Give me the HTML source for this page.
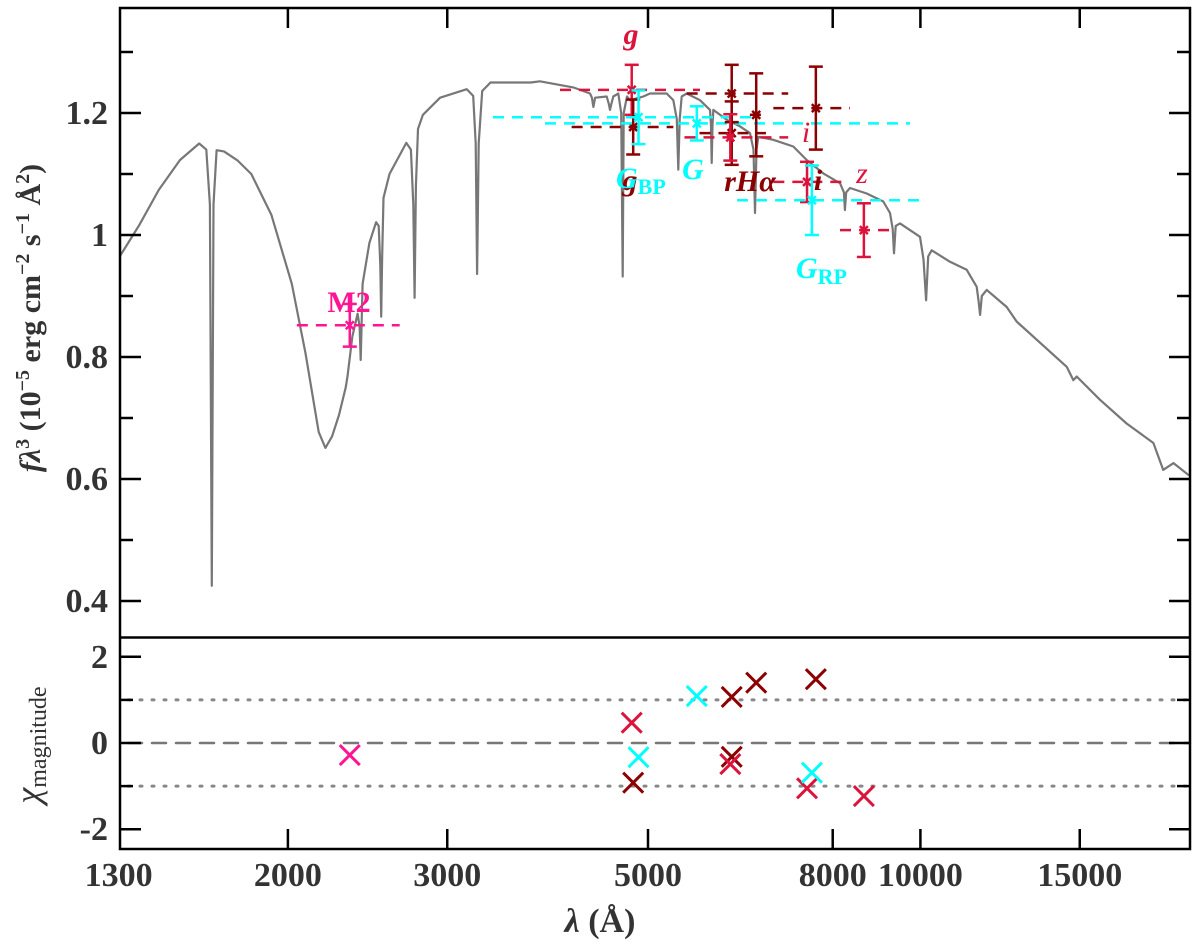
<!DOCTYPE html>
<html><head><meta charset="utf-8"><style>
html,body{margin:0;padding:0;background:#fff;}
svg{display:block;font-family:"Liberation Serif",serif;}
</style></head><body>
<svg id="chart" width="1200" height="945" viewBox="0 0 1200 945" xmlns="http://www.w3.org/2000/svg">
<g id="spec"></g>
<g id="phot"></g>
<g id="resid"></g>
<g id="axes"></g>
<text transform="translate(40,318) rotate(-90)" text-anchor="middle" font-size="30" font-weight="bold" fill="#333"><tspan font-style="italic">fλ</tspan><tspan dy="-11" font-size="20">3</tspan><tspan dy="11"> (10</tspan><tspan dy="-11" font-size="20">−5</tspan><tspan dy="11"> erg cm</tspan><tspan dy="-11" font-size="20">−2</tspan><tspan dy="11"> s</tspan><tspan dy="-11" font-size="20">−1</tspan><tspan dy="11"> Å</tspan><tspan dy="-11" font-size="20">2</tspan><tspan dy="11">)</tspan></text>
<text transform="translate(40,745) rotate(-90)" text-anchor="middle" font-size="36" fill="#333"><tspan font-style="italic">χ</tspan><tspan font-size="24" dy="6">magnitude</tspan></text>
<text x="600" y="932" text-anchor="middle" font-size="34" font-weight="bold" fill="#333"><tspan font-style="italic">λ</tspan> (Å)</text>
</svg>
<script>
// ---- data ----
const specWave = [1300,1370,1440,1520,1596,1625,1640,1648,1655,1668,1700,1760,1822,1918,2020,2091,2163,2200,2238,2278,2317,2327,2357,2388,2400,2407,2413,2419,2461,2503,2520,2530,2536,2542,2551,2590,2703,2735,2752,2761,2770,2785,2820,2946,3153,3205,3225,3237,3250,3279,3349,3712,3798,4135,4314,4335,4351,4370,4501,4525,4539,4555,4578,4636,4670,4688,4700,4740,4776,4940,5025,5244,5333,5380,5401,5420,5448,5517,5707,5855,5870,5880,5892,5904,6108,6319,6482,6540,6565,6590,6620,6878,7237,7488,7810,8150,8230,8252,8280,8360,8723,9100,9256,9320,9350,9390,9494,9989,10080,10145,10200,10292,10781,11250,11540,11600,11640,11690,11837,12455,12778,14510,14758,14884,15790,16900,18090,18550,19039,19800];
const specFlux = [0.962,1.016,1.074,1.123,1.150,1.140,1.050,0.425,1.050,1.139,1.137,1.122,1.100,1.033,0.920,0.807,0.677,0.651,0.670,0.705,0.750,0.767,0.834,0.871,0.850,0.795,0.860,0.920,0.987,1.021,1.015,0.950,0.866,0.960,1.061,1.100,1.151,1.140,1.050,0.897,1.080,1.174,1.197,1.225,1.239,1.228,1.150,0.936,1.150,1.236,1.250,1.250,1.252,1.242,1.232,1.225,1.210,1.225,1.227,1.215,1.205,1.215,1.227,1.232,1.200,0.932,1.200,1.227,1.221,1.227,1.232,1.232,1.221,1.190,1.107,1.190,1.227,1.232,1.221,1.205,1.180,1.118,1.180,1.205,1.189,1.178,1.167,1.140,1.036,1.140,1.161,1.156,1.145,1.123,1.101,1.085,1.070,1.041,1.070,1.077,1.068,1.055,1.036,1.010,0.970,1.015,1.019,0.997,0.960,0.893,0.965,0.975,0.956,0.943,0.915,0.890,0.869,0.900,0.910,0.882,0.858,0.784,0.762,0.768,0.730,0.691,0.659,0.615,0.626,0.606];

const photNames = ['g-sdss','g-iphas','gaia-bp','gaia-g','r-iphas-1','r-iphas-2','r-sdss','halpha','i-iphas','i-sdss','gaia-rp','z-sdss','m2'];
const photWave  = [4797,4815,4881,5661,6187,6187,6165,6585,7664,7494,7587,8660,2341];
const photFlux  = [1.238,1.177,1.193,1.183,1.232,1.167,1.160,1.197,1.208,1.087,1.057,1.008,0.852];
const photErr   = [0.041,0.045,0.044,0.028,0.047,0.052,0.038,0.068,0.068,0.033,0.057,0.044,0.035];
const photLo    = [3997,4117,3370,3847,5517,5700,5486,6480,6878,6878,6272,8150,2046];
const photHi    = [5707,5333,6533,9740,7143,6750,7143,6690,8360,8252,10055,9332,2658];
const photChi   = [0.47,-0.92,-0.33,1.09,1.07,-0.32,-0.49,1.40,1.48,-1.05,-0.69,-1.23,-0.28];
const photColor = ['#dc143c','#8b0000','#00ffff','#00ffff','#8b0000','#8b0000','#dc143c','#8b0000','#8b0000','#dc143c','#00ffff','#dc143c','#ff1493'];

const xTicks = [2000,3000,5000,8000,10000,15000];
const xTickLabels = ['1300','2000','3000','5000','8000','10000','15000'];
const xLabelWaves = [1300,2000,3000,5000,8000,10000,15000];
const yTicks = [0.4,0.6,0.8,1.0,1.2];
const yTickLabels = ['0.4','0.6','0.8','1','1.2'];
const yMinor = [0.5,0.7,0.9,1.1,1.3];
const rTicks = [-2,0,2];
const rTickLabels = ['-2','0','2'];
const rMinor = [-1,1];

// ---- scales ----
const L=120,R=1190,T=8,MID=637.5,B=849;
const X = w => 648 + 393*Math.log(w/5000);
const Y = f => 235 - (f-1)*610;
const YR = c => 743 - c*43.1;
const NS='http://www.w3.org/2000/svg';
function mk(tag, attrs, parent){const e=document.createElementNS(NS,tag);for(const k in attrs)e.setAttribute(k,attrs[k]);parent.appendChild(e);return e;}

const defs=mk('defs',{},document.getElementById('chart'));
const cp=mk('clipPath',{id:'clipTop'},defs);mk('rect',{x:L,y:T,width:R-L,height:MID-T},cp);

// spectrum
const spec=document.getElementById('spec');
spec.setAttribute('clip-path','url(#clipTop)');
let d='';
specWave.forEach((w,i)=>{d+=(i?'L':'M')+X(w).toFixed(1)+','+Y(specFlux[i]).toFixed(1);});
const sp=mk('path',{d:d,fill:'none',stroke:'#777',"stroke-width":2.2,"stroke-linejoin":'round'},spec);



// photometry
const phot=document.getElementById('phot');
photWave.forEach((w,i)=>{
  const g=mk('g',{},phot);
  
  
  const c=photColor[i], x=X(w), y=Y(photFlux[i]);
  mk('line',{x1:X(photLo[i]),x2:X(photHi[i]),y1:y,y2:y,stroke:c,"stroke-width":2.5,"stroke-dasharray":'11,8'},g);
  const yt=Y(photFlux[i]+photErr[i]), yb=Y(photFlux[i]-photErr[i]);
  mk('line',{x1:x,x2:x,y1:yt,y2:yb,stroke:c,"stroke-width":2.5},g);
  mk('line',{x1:x-7,x2:x+7,y1:yt,y2:yt,stroke:c,"stroke-width":2.5},g);
  mk('line',{x1:x-7,x2:x+7,y1:yb,y2:yb,stroke:c,"stroke-width":2.5},g);
  mk('path',{d:`M${x-4},${y-4}L${x+4},${y+4}M${x-4},${y+4}L${x+4},${y-4}`,stroke:c,"stroke-width":2.5},g);
});

// band labels
const labels=[
 ['label-g-sdss','g','#dc143c',631,44,'bi',''],
 ['label-g-iphas','g','#8b0000',630,190,'bi',''],
 ['label-gaia-bp','G','#00ffff',616,188,'bi','BP'],
 ['label-gaia-g','G','#00ffff',693,179,'bi',''],
 ['label-r-halpha','rHα','#8b0000',750,191,'bi',''],
 ['label-i-sdss','i','#dc143c',806,142,'i',''],
 ['label-i-iphas','i','#8b0000',818,190,'bi',''],
 ['label-z-sdss','z','#dc143c',862,183,'i',''],
 ['label-gaia-rp','G','#00ffff',796,278,'bi','RP'],
 ['label-m2','M2','#ff1493',349,312,'b','']
];
labels.forEach(l=>{
  const t=mk('text',{x:l[3],y:l[4],fill:l[2],"font-size":30,"text-anchor":l[6]?'start':'middle',"font-weight":l[5].includes('b')?'bold':'normal',"font-style":l[5].includes('i')?'italic':'normal'},document.getElementById('chart'));
  
  
  t.textContent=l[1];
  if(l[6]){const s=document.createElementNS(NS,'tspan');s.setAttribute('font-size','22');s.setAttribute('font-style','normal');s.setAttribute('dy','6');s.textContent=l[6];t.appendChild(s);}
});

// residuals
const resid=document.getElementById('resid');
[[0,'#777','14,10',2.5,'zero-line'],[1,'#888','2,10',3,'plus-one-line'],[-1,'#888','2,10',3,'minus-one-line']].forEach(r=>{
  const ln=mk('line',{x1:L+8,x2:R,y1:YR(r[0]),y2:YR(r[0]),stroke:r[1],"stroke-dasharray":r[2],"stroke-width":r[3],"stroke-linecap":'round'},resid);
  
  
});
photWave.forEach((w,i)=>{
  const x=X(w), y=YR(photChi[i]);
  const p=mk('path',{d:`M${x-10},${y-10}L${x+10},${y+10}M${x-10},${y+10}L${x+10},${y-10}`,stroke:photColor[i],"stroke-width":3},resid);
  
  
});

// axes
const ax=document.getElementById('axes');
const frame=mk('path',{d:`M${L},${T}H${R}V${B}H${L}Z M${L},${MID}H${R}`,fill:'none',stroke:'#000',"stroke-width":2.5},ax);


xTicks.forEach(w=>{const x=X(w);
  mk('line',{x1:x,x2:x,y1:B,y2:B-20,stroke:'#000',"stroke-width":2.5},ax);
  mk('line',{x1:x,x2:x,y1:T,y2:T+20,stroke:'#000',"stroke-width":2.5},ax);
});
xTickLabels.forEach((s,i)=>{
  const t=mk('text',{x:Math.max(X(xLabelWaves[i]),88),y:886,"text-anchor":'middle',"font-size":34,"font-weight":'bold',fill:'#333'},ax);
  
  
  t.textContent=s;
});
function yt(v,len,F){const y=F(v);mk('line',{x1:L,x2:L+len,y1:y,y2:y,stroke:'#000',"stroke-width":2.5},ax);mk('line',{x1:R,x2:R-len,y1:y,y2:y,stroke:'#000',"stroke-width":2.5},ax);}
yTicks.forEach(v=>yt(v,21,Y)); yMinor.forEach(v=>yt(v,13,Y));
rTicks.forEach(v=>yt(v,21,YR)); rMinor.forEach(v=>yt(v,13,YR));
yTickLabels.forEach((s,i)=>{
  const t=mk('text',{x:108,y:Y(yTicks[i])+11,"text-anchor":'end',"font-size":34,"font-weight":'bold',fill:'#333'},ax);
  
  
  t.textContent=s;
});
rTickLabels.forEach((s,i)=>{
  const t=mk('text',{x:108,y:YR(rTicks[i])+11,"text-anchor":'end',"font-size":34,"font-weight":'bold',fill:'#333'},ax);
  
  
  t.textContent=s;
});
</script>
</body></html>
